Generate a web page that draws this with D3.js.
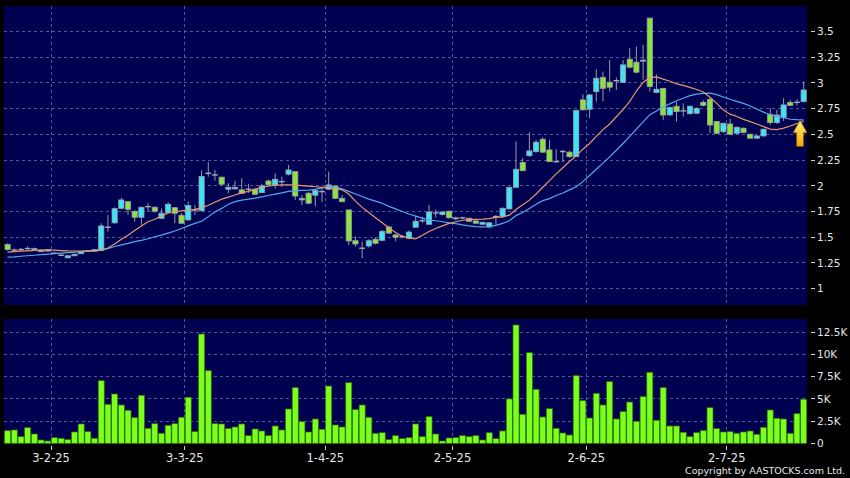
<!DOCTYPE html>
<html>
<head>
<meta charset="utf-8">
<script src="https://cdn.jsdelivr.net/npm/d3@7"></script>
<style>
  html, body { margin: 0; padding: 0; background: #000; }
  svg { display: block; }
  text { font-family: "DejaVu Sans", Verdana, sans-serif; }
</style>
</head>
<body>
<svg id="chart" width="850" height="478"></svg>
<script>
// ---------------- DATA ----------------
const openP = [
  1.43,1.375,1.38,1.39,1.38,1.36,1.365,1.344,1.325,1.30,
  1.32,1.34,1.365,1.365,1.37,1.597,1.64,1.781,1.845,1.752,
  1.694,1.797,1.791,1.684,1.739,1.787,1.713,1.668,1.765,1.758,
  2.121,2.105,2.083,1.966,1.97,1.96,1.966,1.966,1.933,2.046,
  2.008,2.04,2.112,2.137,1.862,1.927,1.908,1.943,1.966,1.998,
  1.878,1.765,1.466,1.393,1.415,1.48,1.47,1.60,1.522,1.505,
  1.49,1.597,1.66,1.626,1.735,1.72,1.752,1.68,1.688,1.684,
  1.658,1.626,1.60,1.70,1.70,1.775,1.985,2.226,2.292,2.332,
  2.452,2.348,2.234,2.332,2.326,2.283,2.834,2.743,2.914,3.053,
  3.005,3.02,3.005,3.229,3.20,3.21,3.628,2.905,2.946,2.688,
  2.772,2.727,2.70,2.704,2.81,2.84,2.623,2.526,2.60,2.51,
  2.559,2.50,2.462,2.484,2.694,2.613,2.665,2.81,2.81,2.817
];
const closeP = [
  1.38,1.375,1.38,1.39,1.39,1.375,1.38,1.344,1.325,1.32,
  1.335,1.36,1.365,1.38,1.61,1.597,1.777,1.862,1.771,1.694,
  1.79,1.797,1.752,1.733,1.82,1.733,1.636,1.807,1.765,2.09,
  2.121,2.105,2.015,1.985,1.985,1.927,1.966,1.917,1.998,2.008,
  2.063,2.04,2.153,1.90,1.878,1.83,1.953,1.943,2.008,1.878,
  1.845,1.464,1.434,1.393,1.466,1.441,1.557,1.54,1.50,1.505,
  1.55,1.655,1.66,1.745,1.735,1.745,1.69,1.688,1.688,1.655,
  1.636,1.645,1.64,1.70,1.781,1.985,2.16,2.146,2.338,2.423,
  2.326,2.234,2.234,2.332,2.283,2.73,2.737,2.882,3.044,2.946,
  2.957,3.02,3.174,3.151,3.103,3.22,2.963,2.937,2.687,2.76,
  2.72,2.727,2.772,2.752,2.781,2.59,2.51,2.607,2.50,2.568,
  2.516,2.462,2.484,2.549,2.613,2.687,2.785,2.781,2.81,2.93
];
const highP = [
  1.44,1.39,1.395,1.41,1.40,1.38,1.385,1.36,1.34,1.325,
  1.34,1.365,1.375,1.385,1.635,1.716,1.79,1.884,1.85,1.76,
  1.80,1.83,1.80,1.78,1.84,1.79,1.733,1.845,1.813,2.15,
  2.23,2.153,2.09,2.024,2.05,2.073,2.02,1.98,2.02,2.06,
  2.12,2.088,2.202,2.14,1.91,1.94,1.97,1.975,2.137,2.0,
  1.91,1.77,1.505,1.457,1.48,1.50,1.57,1.61,1.53,1.52,
  1.565,1.70,1.70,1.813,1.77,1.75,1.76,1.70,1.70,1.69,
  1.665,1.65,1.645,1.716,1.79,1.99,2.43,2.267,2.52,2.445,
  2.47,2.445,2.355,2.35,2.34,2.74,2.889,2.89,3.132,3.109,
  3.22,3.05,3.22,3.336,3.352,3.368,3.63,3.08,2.95,2.77,
  2.817,2.80,2.78,2.76,2.83,2.85,2.63,2.61,2.65,2.575,
  2.565,2.505,2.49,2.555,2.753,2.737,2.85,2.834,2.84,3.012
];
const lowP = [
  1.37,1.365,1.37,1.375,1.37,1.355,1.365,1.335,1.315,1.295,
  1.315,1.335,1.355,1.36,1.365,1.554,1.63,1.77,1.716,1.651,
  1.62,1.748,1.74,1.68,1.73,1.636,1.63,1.66,1.716,1.75,
  2.088,2.05,2.0,1.927,1.96,1.92,1.93,1.91,1.93,2.0,
  1.975,1.99,2.10,1.862,1.813,1.82,1.80,1.84,1.96,1.87,
  1.84,1.425,1.408,1.295,1.40,1.43,1.46,1.53,1.46,1.49,
  1.48,1.59,1.64,1.62,1.69,1.71,1.68,1.665,1.675,1.645,
  1.63,1.62,1.59,1.62,1.69,1.77,1.98,2.14,2.28,2.32,
  2.32,2.23,2.225,2.23,2.27,2.28,2.73,2.656,2.817,2.82,
  2.915,2.93,3.0,3.14,3.09,3.028,2.915,2.90,2.64,2.68,
  2.623,2.67,2.69,2.70,2.77,2.51,2.50,2.51,2.49,2.50,
  2.51,2.455,2.455,2.475,2.591,2.60,2.63,2.775,2.78,2.81
];
const volume = [
  1415,1494,741,1752,1044,370,258,629,562,404,
  1269,2168,1303,562,7031,4380,5537,4302,3706,2875,
  5390,1685,2201,1123,2022,2201,2920,5166,1303,12276,
  8154,2201,2168,1640,1831,2168,854,1606,1381,854,
  1943,1494,3853,6245,2426,1269,2729,1572,6431,2055,
  1831,6806,3774,4302,2920,1123,1190,404,854,517,
  629,2168,741,2987,1044,258,595,629,854,741,
  854,370,1190,517,1381,4975,13286,3257,10175,6064,
  2954,3886,1685,1157,932,7592,4785,2841,5615,4302,
  6918,2729,3549,4638,2471,5234,7974,2583,6245,1943,
  1943,1235,741,1190,1415,3998,1640,1269,1303,1123,
  1269,1381,1011,1797,3740,2808,2729,1123,3324,4941
];
// moving averages as drawn on the reference (orange = short, blue = long)
const maShort = [
  1.355,1.36,1.365,1.368,1.372,1.375,1.376,1.374,1.37,1.367,
  1.366,1.366,1.367,1.368,1.375,1.395,1.435,1.48,1.52,1.565,
  1.61,1.65,1.675,1.705,1.735,1.75,1.755,1.765,1.77,1.785,
  1.81,1.84,1.87,1.89,1.91,1.93,1.945,1.965,1.985,1.995,
  2.005,2.008,2.008,2.006,2.002,1.996,1.99,1.985,1.98,1.975,
  1.96,1.92,1.85,1.79,1.74,1.69,1.64,1.59,1.545,1.51,
  1.49,1.485,1.52,1.555,1.585,1.61,1.635,1.65,1.665,1.67,
  1.673,1.675,1.68,1.692,1.697,1.715,1.77,1.815,1.86,1.92,
  1.985,2.05,2.115,2.175,2.235,2.29,2.355,2.41,2.48,2.545,
  2.60,2.67,2.74,2.82,2.92,3.005,3.05,3.057,3.035,3.015,
  2.99,2.975,2.955,2.935,2.91,2.86,2.80,2.735,2.695,2.673,
  2.645,2.623,2.60,2.574,2.55,2.545,2.56,2.58,2.605,2.625
];
const maLong = [
  1.307,1.31,1.315,1.32,1.325,1.33,1.335,1.34,1.345,1.35,
  1.355,1.36,1.365,1.37,1.376,1.39,1.41,1.425,1.44,1.457,
  1.47,1.485,1.505,1.52,1.54,1.56,1.585,1.61,1.635,1.655,
  1.70,1.745,1.78,1.82,1.845,1.86,1.87,1.88,1.892,1.905,
  1.918,1.93,1.945,1.953,1.955,1.958,1.965,1.98,1.995,1.99,
  1.97,1.945,1.92,1.895,1.87,1.85,1.83,1.80,1.775,1.75,
  1.725,1.705,1.685,1.668,1.66,1.65,1.64,1.632,1.62,1.61,
  1.603,1.60,1.603,1.615,1.635,1.66,1.71,1.74,1.78,1.82,
  1.855,1.875,1.905,1.93,1.96,1.99,2.04,2.10,2.16,2.22,
  2.28,2.345,2.41,2.48,2.55,2.62,2.69,2.725,2.765,2.795,
  2.825,2.85,2.875,2.89,2.897,2.899,2.885,2.862,2.84,2.82,
  2.80,2.775,2.745,2.715,2.69,2.672,2.66,2.646,2.642,2.64
];
const dateTickIndex = [6, 26, 47, 66, 86, 107];
const dateTickLabels = ["3-2-25", "3-3-25", "1-4-25", "2-5-25", "2-6-25", "2-7-25"];
const priceTicks = [1, 1.25, 1.5, 1.75, 2, 2.25, 2.5, 2.75, 3, 3.25, 3.5];
const volumeTicks = [0, 2500, 5000, 7500, 10000, 12500];
const volumeTickLabels = ["0", "2.5K", "5K", "7.5K", "10K", "12.5K"];
const copyrightText = "Copyright by AASTOCKS.com Ltd.";

// ---------------- LAYOUT ----------------
const N = closeP.length;
const plotL = 4.25, plotR = 807;
const priceTop = 6, priceBot = 305;
const volTop = 319, volBot = 444;

const svg = d3.select("#chart");
svg.append("rect").attr("width", 850).attr("height", 478).attr("fill", "#000");

const x = d3.scaleBand().domain(d3.range(N)).range([plotL, plotR]).padding(0);
const step = x.step();
const cx = i => x(i) + step / 2;
const yP = d3.scaleLinear().domain([1, 3.5]).range([288.7, 31.3]);
const yV = d3.scaleLinear().domain([0, 12500]).range([443.3, 332]);

const navy = "#000050";
const gridCol = "#55559a";

svg.append("rect").attr("x", plotL - 0.25).attr("y", priceTop).attr("width", plotR - plotL + 0.25)
  .attr("height", priceBot - priceTop).attr("fill", navy);
svg.append("rect").attr("x", plotL - 0.25).attr("y", volTop).attr("width", plotR - plotL + 0.25)
  .attr("height", volBot - volTop).attr("fill", navy);

// gridlines
const grid = svg.append("g").attr("stroke", gridCol).attr("stroke-width", 1)
  .attr("stroke-dasharray", "3,3").attr("shape-rendering", "crispEdges");
priceTicks.forEach(t => {
  grid.append("line").attr("x1", plotL).attr("x2", plotR).attr("y1", yP(t)).attr("y2", yP(t));
});
volumeTicks.filter(t => t > 0).forEach(t => {
  grid.append("line").attr("x1", plotL).attr("x2", plotR).attr("y1", yV(t)).attr("y2", yV(t));
});
const gridX = i => x(i) + step; // boundary after the first trading day of the month
dateTickIndex.forEach(i => {
  grid.append("line").attr("x1", gridX(i)).attr("x2", gridX(i)).attr("y1", priceTop).attr("y2", priceBot);
  grid.append("line").attr("x1", gridX(i)).attr("x2", gridX(i)).attr("y1", volTop).attr("y2", volBot);
});

// right axes
const axisCol = "#e6e6e6";
const pAxis = svg.append("g");
priceTicks.forEach(t => {
  pAxis.append("line").attr("x1", 811).attr("x2", 815).attr("y1", yP(t)).attr("y2", yP(t))
    .attr("stroke", "#cfcfcf").attr("stroke-width", 1).attr("shape-rendering", "crispEdges");
  pAxis.append("text").attr("x", 817).attr("y", yP(t)).attr("dy", "0.36em")
    .attr("font-size", "10.5px").attr("fill", axisCol).text(String(t));
});
volumeTicks.forEach((t, k) => {
  pAxis.append("line").attr("x1", 811).attr("x2", 815).attr("y1", yV(t)).attr("y2", yV(t))
    .attr("stroke", "#cfcfcf").attr("stroke-width", 1).attr("shape-rendering", "crispEdges");
  pAxis.append("text").attr("x", 817).attr("y", yV(t)).attr("dy", "0.36em")
    .attr("font-size", "10.5px").attr("fill", axisCol).text(volumeTickLabels[k]);
});

// date axis
dateTickIndex.forEach((i, k) => {
  svg.append("line").attr("x1", gridX(i)).attr("x2", gridX(i)).attr("y1", 446).attr("y2", 450)
    .attr("stroke", "#cfcfcf").attr("stroke-width", 1).attr("shape-rendering", "crispEdges");
  svg.append("text").attr("x", gridX(i)).attr("y", 462).attr("text-anchor", "middle")
    .attr("font-size", "11.5px").attr("fill", axisCol).text(dateTickLabels[k]);
});

svg.append("text").attr("x", 845).attr("y", 474).attr("text-anchor", "end")
  .attr("font-size", "9.5px").attr("fill", "#e6e6e6").text(copyrightText);

// volume bars
const vbw = step - 0.7;
svg.append("g").selectAll("rect").data(volume).join("rect")
  .attr("x", (d, i) => cx(i) - vbw / 2)
  .attr("y", d => yV(d))
  .attr("width", vbw)
  .attr("height", d => yV(0) - yV(d))
  .attr("fill", "#7dff1e")
  .attr("stroke", "#2f7a00")
  .attr("stroke-width", 0.7);

// candles
const cw = 5.2;
const wickCol = "#9a9aa6";
const cg = svg.append("g");
d3.range(N).forEach(i => {
  const o = openP[i], c = closeP[i], h = highP[i], l = lowP[i];
  cg.append("line").attr("x1", cx(i)).attr("x2", cx(i)).attr("y1", yP(h)).attr("y2", yP(l))
    .attr("stroke", wickCol).attr("stroke-width", 1);
});
d3.range(N).forEach(i => {
  const o = openP[i], c = closeP[i];
  if (Math.abs(o - c) < 0.004) {
    cg.append("line").attr("x1", cx(i) - cw / 2 - 0.3).attr("x2", cx(i) + cw / 2 + 0.3)
      .attr("y1", yP(c)).attr("y2", yP(c)).attr("stroke", "#a8a8b4").attr("stroke-width", 1.4);
  } else {
    const up = c > o;
    const top = yP(Math.max(o, c)), bot = yP(Math.min(o, c));
    cg.append("rect").attr("x", cx(i) - cw / 2).attr("y", top)
      .attr("width", cw).attr("height", Math.max(1, bot - top))
      .attr("fill", up ? "#3fe4f4" : "#8ee23c")
      .attr("stroke", "#9aa2ac").attr("stroke-width", 0.8);
  }
});

// moving averages
const line = arr => d3.line().x((d, i) => cx(i)).y(d => yP(d))(arr);
svg.append("path").attr("d", line(maLong)).attr("fill", "none")
  .attr("stroke", "#52aaee").attr("stroke-width", 1.2);
svg.append("path").attr("d", line(maShort)).attr("fill", "none")
  .attr("stroke", "#e8966c").attr("stroke-width", 1.2);

// yellow arrow marker pointing at the last long-MA value
const defs = svg.append("defs");
const grad = defs.append("linearGradient").attr("id", "arrowGrad")
  .attr("x1", 0).attr("y1", 0).attr("x2", 0).attr("y2", 1);
grad.append("stop").attr("offset", "0%").attr("stop-color", "#fff27a");
grad.append("stop").attr("offset", "100%").attr("stop-color", "#f2ac00");
const ax = cx(N - 1) - 3.6, ay = yP(maLong[N - 1]) + 0.5;
svg.append("path")
  .attr("d", "M0,0 L7,12.5 L3.4,12.5 L3.4,26 L-3.4,26 L-3.4,12.5 L-7,12.5 Z")
  .attr("transform", `translate(${ax},${ay})`)
  .attr("fill", "url(#arrowGrad)").attr("stroke", "#9a6200").attr("stroke-width", 0.8);
</script>
</body>
</html>
